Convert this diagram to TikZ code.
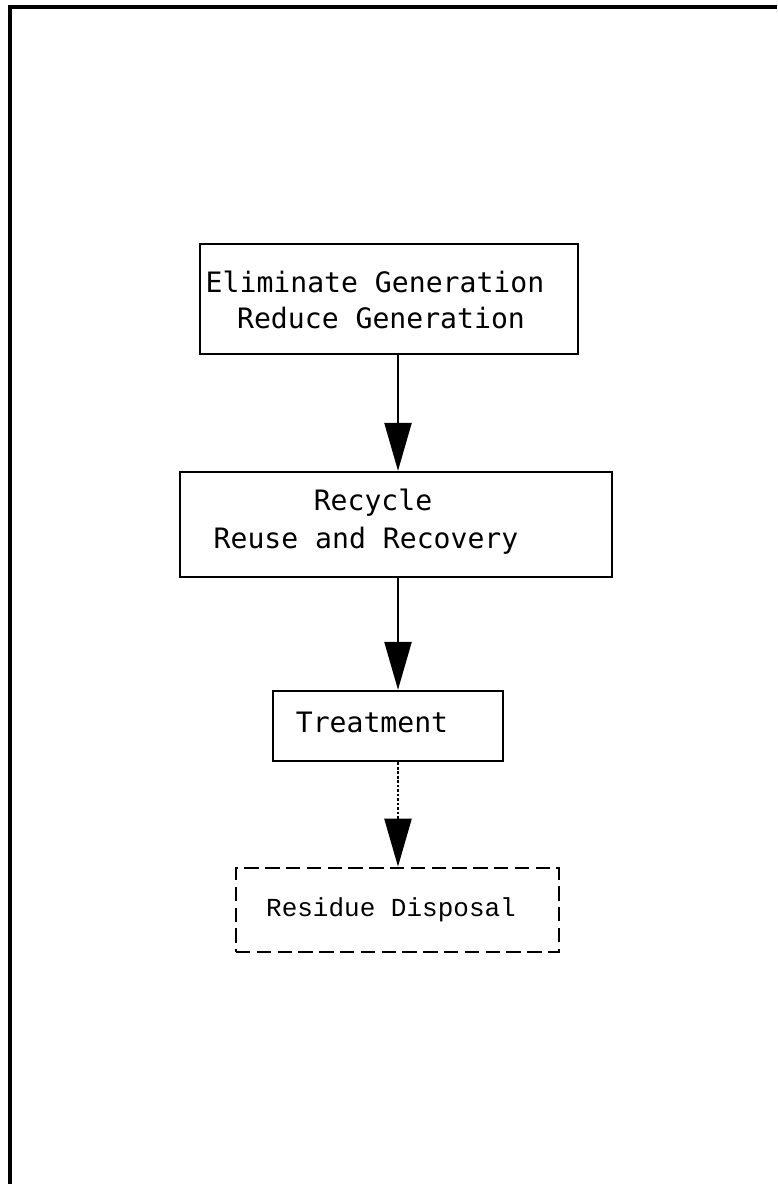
\documentclass[tikz,border=0pt]{standalone}
\usepackage{fontspec}
\newfontfamily\plotfont{DejaVu Sans Mono}
\newfontfamily\typefont{Liberation Mono}
\usetikzlibrary{arrows.meta}

\begin{document}
\begin{tikzpicture}[
  stage/.style={draw, line width=0.6mm, inner sep=0pt},
  futurestage/.style={stage, line width=0.7mm, dash pattern=on 0.36cm off 0.16cm},
  label/.style={font=\plotfont\fontsize{20}{25}\selectfont, align=center, inner sep=0pt},
  flow/.style={line width=0.45mm, -{Triangle[length=1.2cm, width=0.68cm]}},
  maybeflow/.style={flow, dash pattern=on 2pt off 1.2pt}
]
\useasboundingbox (0, 0) rectangle (19.425, 29.6);

% page frame
\draw[line width=0.8mm] (0.25cm, 0cm) -- (0.25cm, 29.425cm) -- (19.425cm, 29.425cm);

% stages
\node[stage, minimum width=9.45cm, minimum height=2.75cm] (eliminate) at (9.725cm, 22.125cm) {};
\node[stage, minimum width=10.8cm, minimum height=2.625cm] (recycle) at (9.9cm, 16.4875cm) {};
\node[stage, minimum width=5.75cm, minimum height=1.75cm] (treatment) at (9.7cm, 11.45cm) {};
\node[futurestage, minimum width=8.075cm, minimum height=2.1cm] (disposal) at (9.9375cm, 6.85cm) {};

\node[label] (eliminatetext) at (9.375cm, 22.1cm) {Eliminate Generation\\ \hspace*{0.3cm}Reduce Generation};
\node[label] (recycletext) at (9.15cm, 16.55cm) {\hspace*{0.35cm}Recycle\\[0.08cm] Reuse and Recovery};
\node[label] (treatmenttext) at (9.3cm, 11.55cm) {Treatment};
\node[font=\typefont\fontsize{18.5}{22}\selectfont, inner sep=0pt] (disposaltext) at (9.775cm, 6.85cm) {Residue Disposal};

% flow between stages
\coordinate (axis) at (9.95cm, 0cm);
\draw[flow] (eliminate.south -| axis) -- (recycle.north -| axis);
\draw[flow] (recycle.south -| axis) -- (treatment.north -| axis);
\draw[maybeflow] (treatment.south -| axis) -- (disposal.north -| axis);
\end{tikzpicture}
\end{document}
